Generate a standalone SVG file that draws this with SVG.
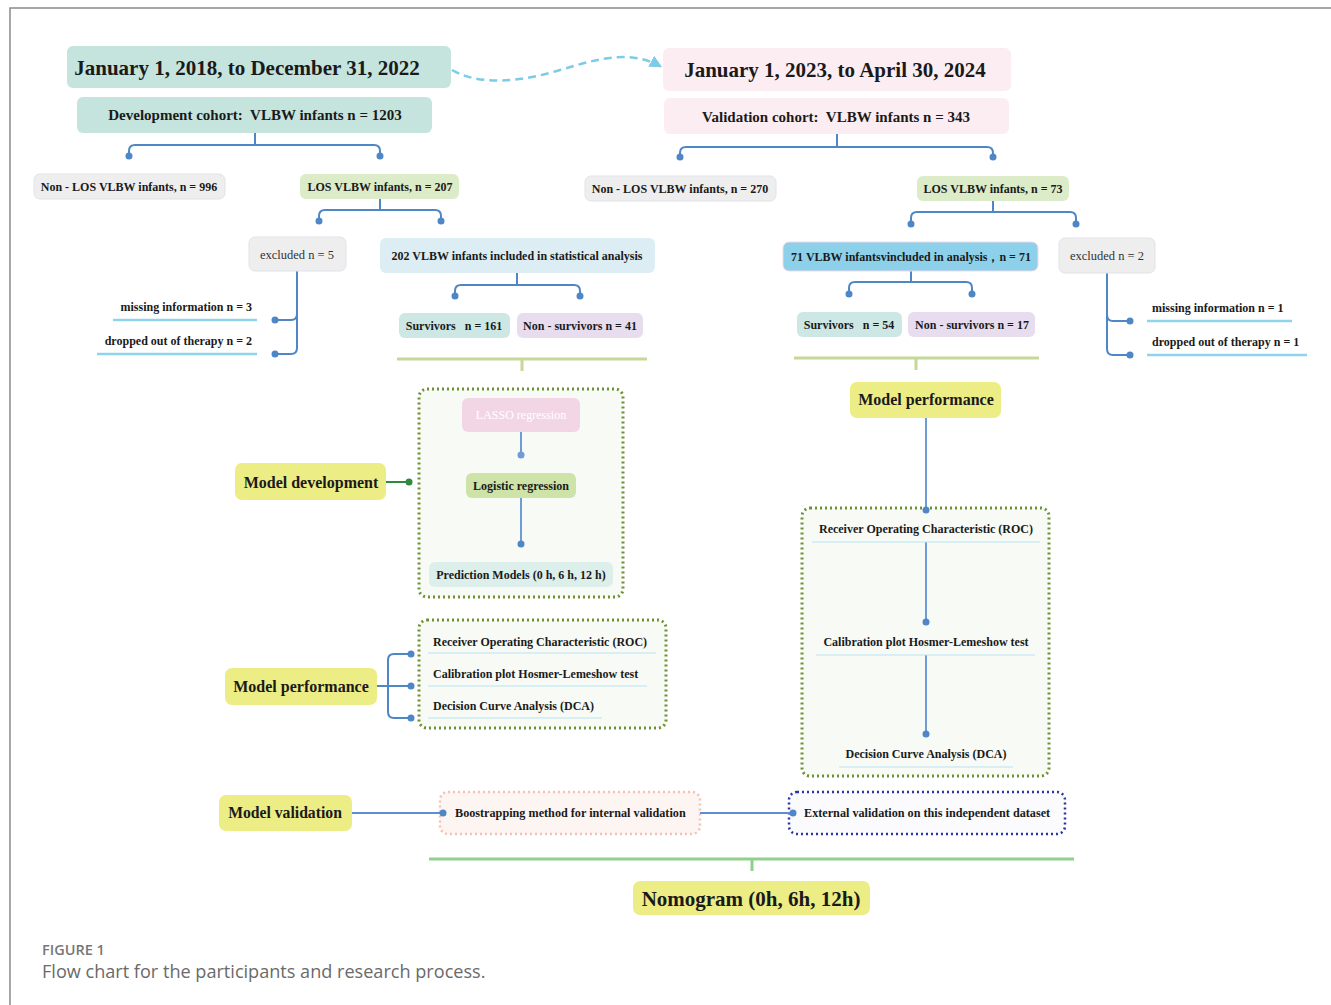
<svg xmlns="http://www.w3.org/2000/svg" width="1331" height="1005" viewBox="0 0 1331 1005">
<defs>
<style>
text{font-family:"Liberation Serif","Times New Roman",serif;font-weight:bold;fill:#1a1a1a}
.c{text-anchor:middle}
.t1{font-size:21px}
.t2{font-size:15px}
.s{font-size:12px}
.m{font-size:12.2px}
.y{font-size:16px}
.n{font-weight:normal;fill:#333;font-size:12.5px}
.con{fill:none;stroke:#4f86c6;stroke-width:2}
.dot{fill:#4f86c6}
.ul{stroke:#8fd3ec;stroke-width:2.5}
.ul2{stroke:#b9e3f2;stroke-width:1}
.yel{fill:#eded85}
.teal{fill:#c5e4dd}
.pink{fill:#fcedf2}
.gray{fill:#eeeeee;stroke:#dfe3ea;stroke-width:1}
.lg{fill:#dcebc8}
.surv{fill:#cce7e4}
.nons{fill:#e8dcef}
.dotbox{fill:#f7faf5;stroke:#6e9134;stroke-width:3;stroke-dasharray:2 3}
.cap{font-family:"Open Sans","Noto Sans",sans-serif;fill:#777;font-weight:normal}
</style>
<marker id="arr" viewBox="0 0 10 10" refX="8" refY="5" markerWidth="5" markerHeight="5" orient="auto"><path d="M0,0 L10,5 L0,10 z" fill="#7ccbe8"/></marker>
</defs>
<rect x="0" y="0" width="1331" height="1005" fill="#ffffff"/>
<path d="M10,1005 V8 H1331" fill="none" stroke="#8a8a8a" stroke-width="1.5"/>

<g id="dev-box"><rect class="dotbox" x="419" y="389" width="204" height="208" rx="8"/></g>
<g id="perf-box-left-frame"><rect class="dotbox" x="419" y="620" width="247" height="108" rx="8"/></g>
<g id="perf-box-right-frame"><rect class="dotbox" x="802" y="508" width="247" height="268" rx="8"/></g>
<g id="bootstrap-frame"><rect x="440" y="792" width="260" height="42" rx="8" fill="#fdf5f2" stroke="#f6c1b5" stroke-width="2.5" stroke-dasharray="2 3"/></g>
<g id="external-frame"><rect x="789" y="792" width="276" height="42" rx="8" fill="#fbfbfe" stroke="#2a35a0" stroke-width="2.5" stroke-dasharray="2 3"/></g>

<g id="connectors">
<path d="M452,70 C480,86 520,82 560,70 C600,58 630,50 660,66" fill="none" stroke="#7ccbe8" stroke-width="2.5" stroke-dasharray="8 5" marker-end="url(#arr)"/>
<path class="con" d="M255,133 V145 M129,156 V151 Q129,145 135,145 H374 Q380,145 380,151 V156"/>
<circle class="dot" cx="129" cy="156" r="3.5"/><circle class="dot" cx="380" cy="156" r="3.5"/>
<path class="con" d="M380,199 V210 M319,221 V216 Q319,210 325,210 H435 Q441,210 441,216 V221"/>
<circle class="dot" cx="319" cy="221" r="3.5"/><circle class="dot" cx="441" cy="221" r="3.5"/>
<path class="con" d="M297,271 V348 Q297,354 291,354 H275 M297,314 Q297,320 291,320 H275"/>
<circle class="dot" cx="275" cy="320" r="3.5"/><circle class="dot" cx="275" cy="354" r="3.5"/>
<path class="con" d="M517,273 V285 M455,296 V291 Q455,285 461,285 H574 Q580,285 580,291 V296"/>
<circle class="dot" cx="455" cy="296" r="3.5"/><circle class="dot" cx="580" cy="296" r="3.5"/>
<path d="M397,359 H647 M522,359 V371" stroke="#c5d89a" stroke-width="3" fill="none"/>
<path d="M521,432 V455 M521,498 V544" stroke="#6f9bd6" stroke-width="2" fill="none"/>
<circle cx="521" cy="455" r="3.5" fill="#6f9bd6"/><circle class="dot" cx="521" cy="544" r="3.5"/>
<path d="M386,482 H409" stroke="#2e8b3e" stroke-width="2"/>
<circle cx="409" cy="482" r="3.5" fill="#2e8b3e"/>
<path class="con" d="M377,686 H388 M411,654 H394 Q388,654 388,660 V712 Q388,718 394,718 H411 M388,686 H411"/>
<circle class="dot" cx="411" cy="654" r="3.5"/><circle class="dot" cx="411" cy="686" r="3.5"/><circle class="dot" cx="411" cy="718" r="3.5"/>
<path class="con" d="M837,134 V147 M680,157 V153 Q680,147 686,147 H987 Q993,147 993,153 V157"/>
<circle class="dot" cx="680" cy="157" r="3.5"/><circle class="dot" cx="993" cy="157" r="3.5"/>
<path class="con" d="M993,201 V212 M911,224 V218 Q911,212 917,212 H1070 Q1076,212 1076,218 V224"/>
<circle class="dot" cx="911" cy="224" r="3.5"/><circle class="dot" cx="1076" cy="224" r="3.5"/>
<path class="con" d="M1107,273 V349 Q1107,355 1113,355 H1130 M1107,315 Q1107,321 1113,321 H1130"/>
<circle class="dot" cx="1130" cy="321" r="3.5"/><circle class="dot" cx="1130" cy="355" r="3.5"/>
<path class="con" d="M911,271 V282 M849,294 V288 Q849,282 855,282 H966 Q972,282 972,288 V294"/>
<circle class="dot" cx="849" cy="294" r="3.5"/><circle class="dot" cx="972" cy="294" r="3.5"/>
<path d="M794,358 H1039 M916,358 V370" stroke="#c5d89a" stroke-width="3" fill="none"/>
<path d="M926,418 V510 M926,542 V622 M926,655 V734" stroke="#6f9bd6" stroke-width="2" fill="none"/>
<circle class="dot" cx="926" cy="510" r="3.5"/><circle class="dot" cx="926" cy="622" r="3.5"/><circle class="dot" cx="926" cy="734" r="3.5"/>
<path d="M352,813 H443 M700,813 H793" stroke="#5b8fd4" stroke-width="2" fill="none"/>
<circle class="dot" cx="443" cy="813" r="3.5"/><circle class="dot" cx="793" cy="813" r="3.5"/>
<path d="M429,859 H1074 M752,859 V871" stroke="#8fcf8f" stroke-width="3" fill="none"/>
</g>

<g id="title-left"><rect class="teal" x="67" y="46" width="384" height="42" rx="6"/><text class="t1 c" x="247" y="75">January 1, 2018, to December 31, 2022</text></g>
<g id="dev-cohort"><rect class="teal" x="77" y="97" width="355" height="36" rx="6"/><text class="t2 c" x="255" y="120" xml:space="preserve">Development cohort:  VLBW infants n = 1203</text></g>
<g id="nonlos-996"><rect class="gray" x="34" y="174" width="191" height="25" rx="6"/><text class="s c" x="129" y="191">Non - LOS VLBW infants, n = 996</text></g>
<g id="los-207"><rect class="lg" x="300" y="174" width="159" height="25" rx="6"/><text class="s c" x="380" y="191">LOS VLBW infants, n = 207</text></g>
<g id="excl-5"><rect class="gray" x="249" y="237" width="97" height="34" rx="6"/><text class="c n" x="297" y="259">excluded n = 5</text></g>
<g id="incl-202"><rect fill="#dcedf3" x="380" y="238" width="275" height="35" rx="6"/><text class="s c" x="517" y="260">202 VLBW infants included in statistical analysis</text></g>
<g id="missing-3"><text class="s" x="252" y="311" text-anchor="end">missing information n = 3</text><path class="ul" d="M113,320 H257"/></g>
<g id="dropped-2"><text class="s" x="252" y="345" text-anchor="end">dropped out of therapy n = 2</text><path class="ul" d="M97,354 H257"/></g>
<g id="surv-161"><rect class="surv" x="399" y="313" width="111" height="25" rx="6"/><text class="s c" x="454" y="330" xml:space="preserve">Survivors   n = 161</text></g>
<g id="nonsurv-41"><rect class="nons" x="517" y="313" width="126" height="25" rx="6"/><text class="s c" x="580" y="330">Non - survivors n = 41</text></g>

<g id="lasso"><rect fill="#f3d6e6" x="462" y="398" width="118" height="34" rx="6"/><text class="s c" x="521" y="419" style="fill:#ffffff;font-weight:normal">LASSO regression</text></g>
<g id="logistic"><rect fill="#cde3a8" x="466" y="473" width="110" height="25" rx="6"/><text class="s c" x="521" y="490">Logistic regression</text></g>
<g id="prediction"><rect fill="#dcefeb" x="429" y="562" width="184" height="25" rx="6"/><text class="s c" x="521" y="579">Prediction Models (0 h, 6 h, 12 h)</text></g>
<g id="model-dev"><rect class="yel" x="235" y="463" width="151" height="37" rx="7"/><text class="y c" x="311" y="488">Model development</text></g>

<g id="perf-box-left">
<text class="s" x="433" y="646">Receiver Operating Characteristic (ROC)</text><path class="ul2" d="M428,653 H656"/>
<text class="s" x="433" y="678">Calibration plot Hosmer-Lemeshow test</text><path class="ul2" d="M428,686 H647"/>
<text class="s" x="433" y="710">Decision Curve Analysis (DCA)</text><path class="ul2" d="M428,718 H602"/></g>
<g id="model-perf-left"><rect class="yel" x="225" y="668" width="152" height="37" rx="7"/><text class="y c" x="301" y="692">Model performance</text></g>

<g id="title-right"><rect class="pink" x="663" y="48" width="348" height="43" rx="6"/><text class="t1 c" x="835" y="77">January 1, 2023, to April 30, 2024</text></g>
<g id="val-cohort"><rect class="pink" x="664" y="98" width="345" height="36" rx="6"/><text class="t2 c" x="836" y="122" xml:space="preserve">Validation cohort:  VLBW infants n = 343</text></g>
<g id="nonlos-270"><rect class="gray" x="585" y="176" width="191" height="25" rx="6"/><text class="s c" x="680" y="193">Non - LOS VLBW infants, n = 270</text></g>
<g id="los-73"><rect class="lg" x="917" y="176" width="152" height="25" rx="6"/><text class="s c" x="993" y="193">LOS VLBW infants, n = 73</text></g>
<g id="incl-71"><rect fill="#8dd0ea" stroke="#f0d8ea" x="783" y="242" width="255" height="29" rx="6"/><text class="s c" x="911" y="261">71 VLBW infantsvincluded in analysis，n = 71</text></g>
<g id="excl-2"><rect class="gray" x="1059" y="238" width="96" height="35" rx="6"/><text class="c n" x="1107" y="260">excluded n = 2</text></g>
<g id="missing-1"><text class="s" x="1152" y="312">missing information n = 1</text><path class="ul" d="M1147,321 H1292"/></g>
<g id="dropped-1"><text class="s" x="1152" y="346">dropped out of therapy n = 1</text><path class="ul" d="M1147,355 H1307"/></g>
<g id="surv-54"><rect class="surv" x="797" y="312" width="105" height="25" rx="6"/><text class="s c" x="849" y="329" xml:space="preserve">Survivors   n = 54</text></g>
<g id="nonsurv-17"><rect class="nons" x="908" y="312" width="127" height="25" rx="6"/><text class="s c" x="972" y="329">Non - survivors n = 17</text></g>
<g id="model-perf-right"><rect class="yel" x="850" y="382" width="151" height="36" rx="7"/><text class="y c" x="926" y="405">Model performance</text></g>
<g id="perf-box-right">
<text class="s c" x="926" y="533">Receiver Operating Characteristic (ROC)</text><path class="ul2" d="M812,542 H1040"/>
<text class="s c" x="926" y="646">Calibration plot Hosmer-Lemeshow test</text><path class="ul2" d="M816,655 H1035"/>
<text class="s c" x="926" y="758">Decision Curve Analysis (DCA)</text><path class="ul2" d="M839,767 H1013"/></g>

<g id="model-val"><rect class="yel" x="219" y="795" width="133" height="36" rx="7"/><text class="y c" x="285" y="818" style="font-size:15.7px">Model validation</text></g>
<g id="bootstrap"><text class="m" x="455" y="817">Boostrapping method for internal validation</text></g>
<g id="external"><text class="m" x="804" y="817">External validation on this independent dataset</text></g>
<g id="nomogram"><rect class="yel" x="633" y="881" width="237" height="34" rx="7"/><text class="c" x="751" y="906" style="font-size:21px">Nomogram (0h, 6h, 12h)</text></g>

<text class="cap" x="42" y="955" style="font-size:14.5px;font-weight:600">FIGURE 1</text>
<text class="cap" x="42" y="978" style="font-size:18.1px;fill:#6a6a6a">Flow chart for the participants and research process.</text>
</svg>
